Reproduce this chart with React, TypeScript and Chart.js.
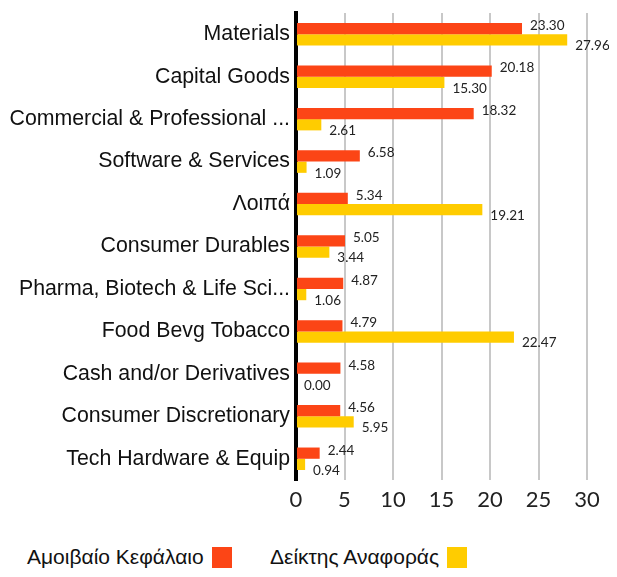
import React, { useEffect, useRef } from "react";
import { Chart, registerables } from "chart.js";

Chart.register(...registerables);

const categories = [
  "Materials",
  "Capital Goods",
  "Commercial & Professional ...",
  "Software & Services",
  "Λοιπά",
  "Consumer Durables",
  "Pharma, Biotech & Life Sci...",
  "Food Bevg Tobacco",
  "Cash and/or Derivatives",
  "Consumer Discretionary",
  "Tech Hardware & Equip",
];
const fundValues = [23.3, 20.18, 18.32, 6.58, 5.34, 5.05, 4.87, 4.79, 4.58, 4.56, 2.44];
const benchValues = [27.96, 15.3, 2.61, 1.09, 19.21, 3.44, 1.06, 22.47, 0.0, 5.95, 0.94];
const seriesNames = ["Αμοιβαίο Κεφάλαιο", "Δείκτης Αναφοράς"];
const xTicks = [0, 5, 10, 15, 20, 25, 30];

const RED = "#FC4516";
const YELLOW = "#FFCC00";

const valueLabels = {
  id: "valueLabels",
  afterDatasetsDraw(chart: any) {
    const ctx = chart.ctx;
    ctx.save();
    ctx.font = "13.5px Lato, 'DejaVu Sans', sans-serif";
    ctx.fillStyle = "#222";
    ctx.textAlign = "left";
    ctx.textBaseline = "middle";
    chart.data.datasets.forEach((ds: any, di: number) => {
      const meta = chart.getDatasetMeta(di);
      meta.data.forEach((el: any, i: number) => {
        const v = ds.data[i] as number;
        const dy = di === 0 ? -3 : 6;
        ctx.fillText(v.toFixed(2), el.x + 8, el.y + dy);
      });
    });
    ctx.restore();
  },
};

export default function App() {
  const ref = useRef<HTMLCanvasElement>(null);
  useEffect(() => {
    if (!ref.current) return;
    const chart = new Chart(ref.current, {
      type: "bar",
      data: {
        labels: categories,
        datasets: [
          { label: seriesNames[0], data: fundValues, backgroundColor: RED },
          { label: seriesNames[1], data: benchValues, backgroundColor: YELLOW },
        ],
      },
      plugins: [valueLabels],
      options: {
        indexAxis: "y",
        animation: false,
        responsive: false,
        layout: { padding: { top: 5, right: 22, left: 0, bottom: 0 } },
        datasets: { bar: { categoryPercentage: 0.53, barPercentage: 1 } },
        plugins: { legend: { display: false }, tooltip: { enabled: false } },
        scales: {
          x: {
            min: 0,
            max: 30,
            afterBuildTicks: (s: any) => {
              s.ticks = xTicks.map((v) => ({ value: v }));
            },
            afterFit: (s: any) => {
              s.height = 48;
            },
            grid: { color: "#c8c8c8", lineWidth: 2, drawTicks: false },
            border: { display: false },
            ticks: {
              color: "#222",
              padding: 7,
              font: { family: "Lato, 'DejaVu Sans', sans-serif", size: 22 },
            },
          },
          y: {
            afterFit: (s: any) => {
              s.width = 288;
              s.paddingTop = 0;
              s.paddingBottom = 0;
            },
            grid: { display: false, drawTicks: false },
            border: { display: true, color: "#000", width: 4 },
            ticks: {
              color: "#111",
              padding: 6,
              font: { family: "'Liberation Sans', Arial, sans-serif", size: 21.3 },
            },
          },
        },
      },
    });
    return () => chart.destroy();
  }, []);

  const legendItem = (name: string, color: string, left: number) => (
    <div
      style={{
        position: "absolute",
        left,
        top: 537,
        display: "flex",
        alignItems: "center",
        fontFamily: "'Liberation Sans', Arial, sans-serif",
        fontSize: 21,
        color: "#111",
        whiteSpace: "nowrap",
      }}
    >
      <span>{name}</span>
      <span style={{ display: "inline-block", width: 20, height: 21, background: color, marginLeft: 8 }} />
    </div>
  );

  return (
    <div style={{ position: "relative", width: 601, height: 561 }}>
      <canvas ref={ref} width={601} height={520} style={{ display: "block" }} />
      {legendItem(seriesNames[0], RED, 19)}
      {legendItem(seriesNames[1], YELLOW, 262)}
    </div>
  );
}
